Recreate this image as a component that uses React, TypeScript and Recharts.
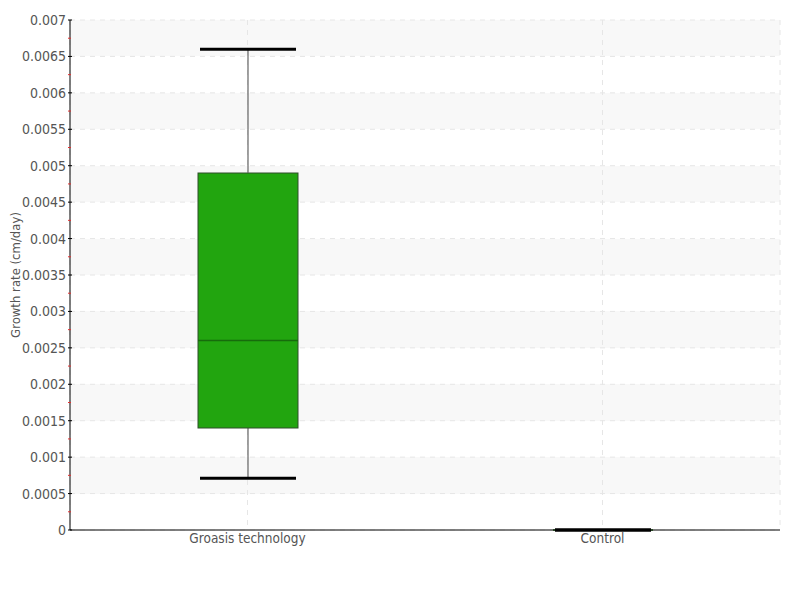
import React from 'react';
import { ComposedChart, Bar, XAxis, YAxis, CartesianGrid } from 'recharts';

const categories = ['Groasis technology', 'Control'];
const mins = [0.00071, 0];
const q1s = [0.0014, 0];
const medians = [0.0026, 0];
const q3s = [0.0049, 0];
const maxs = [0.0066, 0];

const majorTicks = [0, 0.0005, 0.001, 0.0015, 0.002, 0.0025, 0.003, 0.0035, 0.004, 0.0045, 0.005, 0.0055, 0.006, 0.0065, 0.007];
const majorLabels = ['0', '0.0005', '0.001', '0.0015', '0.002', '0.0025', '0.003', '0.0035', '0.004', '0.0045', '0.005', '0.0055', '0.006', '0.0065', '0.007'];
const minorTicks = [0.00025, 0.00075, 0.00125, 0.00175, 0.00225, 0.00275, 0.00325, 0.00375, 0.00425, 0.00475, 0.00525, 0.00575, 0.00625, 0.00675];

const allTicks = [...majorTicks, ...minorTicks].sort((a, b) => a - b);

const data = categories.map((name, i) => ({
  name,
  base: mins[i],
  lower: q1s[i] - mins[i],
  box: q3s[i] - q1s[i],
  upper: maxs[i] - q3s[i],
  q1: q1s[i],
  q3: q3s[i],
  median: medians[i],
}));

const FONT = '"Liberation Sans Narrow", "DejaVu Sans Condensed", sans-serif';
const CAP = 48;

const LowerShape = (props: any) => {
  const { x, y, width, height } = props;
  const cx = x + width / 2;
  return (
    <g>
      <line x1={cx} x2={cx} y1={y} y2={y + height} stroke="#666" strokeWidth={1.2} />
      <line x1={cx - CAP} x2={cx + CAP} y1={y + height} y2={y + height} stroke="#000" strokeWidth={3} />
    </g>
  );
};

const UpperShape = (props: any) => {
  const { x, y, width, height } = props;
  const cx = x + width / 2;
  return (
    <g>
      <line x1={cx} x2={cx} y1={y} y2={y + height} stroke="#666" strokeWidth={1.2} />
      <line x1={cx - CAP} x2={cx + CAP} y1={y} y2={y} stroke="#000" strokeWidth={3} />
    </g>
  );
};

const BoxShape = (props: any) => {
  const { x, y, width, height, payload } = props;
  const span = payload.q3 - payload.q1;
  const my = span > 0 ? y + (height * (payload.q3 - payload.median)) / span : y;
  return (
    <g>
      <rect x={x} y={y} width={width} height={height} fill="#22a50f" stroke="#2f4f2a" strokeWidth={1} />
      <line x1={x} x2={x + width} y1={my} y2={my} stroke="#176b0c" strokeWidth={1.5} />
    </g>
  );
};

const YTick = (props: any) => {
  const { x, y, payload } = props;
  const idx = majorTicks.findIndex((t) => Math.abs(t - payload.value) < 1e-9);
  if (idx < 0) {
    return <line x1={x + 2} x2={x + 5} y1={y} y2={y} stroke="#e03030" strokeWidth={1} />;
  }
  return (
    <g>
      <line x1={x + 2} x2={x + 6} y1={y} y2={y} stroke="#000" strokeWidth={1} />
      <text x={x} y={y} dy={5} textAnchor="end" fill="#555" fontSize={14} fontFamily={FONT}>
        {majorLabels[idx]}
      </text>
    </g>
  );
};

const YLabel = (props: any) => {
  const vb = props.viewBox;
  const cx = 7;
  const cy = vb.y + vb.height / 2;
  return (
    <text x={cx} y={cy} transform={`rotate(-90 ${cx} ${cy})`} textAnchor="middle" dominantBaseline="central" fill="#555" fontSize={13} fontFamily={FONT}>
      Growth rate (cm/day)
    </text>
  );
};

export default function App() {
  return (
    <div style={{ fontFamily: FONT }}>
      <ComposedChart width={790} height={584} data={data} margin={{ top: 12, right: 18, left: 0, bottom: 32 }} barCategoryGap={0}>
        <CartesianGrid
          stroke="#e6e6e6"
          strokeDasharray="5 5"
          horizontalValues={majorTicks}
          horizontalFill={['#f8f8f8', '#ffffff']}
          fillOpacity={1}
        />
        <XAxis
          dataKey="name"
          axisLine={{ stroke: '#000' }}
          tickLine={false}
          tick={{ fill: '#555', fontSize: 13.5, fontFamily: FONT }}
          tickSize={1}
          height={30}
        />
        <YAxis
          type="number"
          domain={[0, 0.007]}
          ticks={allTicks}
          interval={0}
          width={62}
          axisLine={{ stroke: '#000' }}
          tickLine={false}
          tickSize={4}
          tickMargin={0}
          tick={<YTick />}
          label={<YLabel />}
        />
        <Bar dataKey="base" stackId="s" fill="transparent" barSize={100} isAnimationActive={false} />
        <Bar dataKey="lower" stackId="s" barSize={100} shape={<LowerShape />} isAnimationActive={false} />
        <Bar dataKey="box" stackId="s" barSize={100} shape={<BoxShape />} isAnimationActive={false} />
        <Bar dataKey="upper" stackId="s" barSize={100} shape={<UpperShape />} isAnimationActive={false} />
      </ComposedChart>
    </div>
  );
}
